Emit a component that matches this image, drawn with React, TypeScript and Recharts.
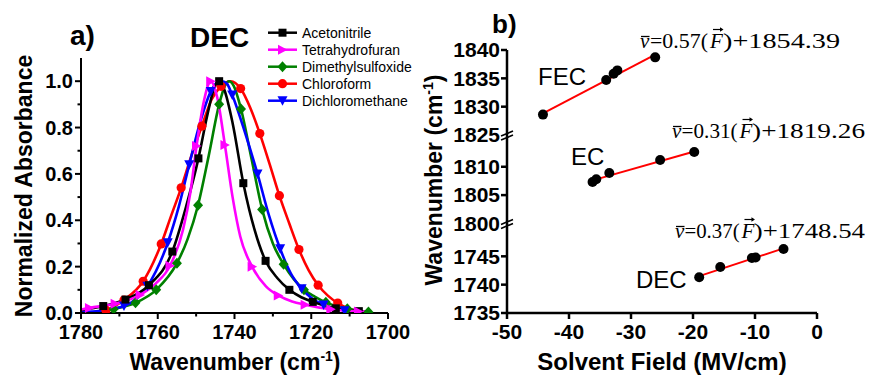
import React from 'react'
import { ComposedChart, Line, Scatter, XAxis, YAxis, Customized } from 'recharts'

type Pt = [number, number]

// ---------------------------------------------------------------------------
// a) DEC carbonyl band: wavenumber (cm-1) vs normalized absorbance
// ---------------------------------------------------------------------------
const ACN_LINE: Pt[] = [
  [1780, 0.012], [1774.2, 0.03], [1768.4, 0.058], [1762.3, 0.12], [1756.2, 0.265],
  [1752.6, 0.46], [1749.4, 0.667], [1747, 0.86], [1745.3, 0.97], [1744, 1.0],
  [1742.7, 0.965], [1740.5, 0.82], [1737.7, 0.56], [1734.7, 0.355], [1731.9, 0.225],
  [1728.8, 0.15], [1725.7, 0.1], [1722.6, 0.068], [1719.6, 0.048], [1714.3, 0.022],
  [1709, 0.01], [1706, 0.005],
]
const ACN_MARKS: Pt[] = [
  [1774.2, 0.03], [1768.4, 0.058], [1762.3, 0.12], [1756.2, 0.265], [1749.4, 0.667],
  [1744, 1.0], [1737.7, 0.56], [1731.9, 0.225], [1725.7, 0.1], [1719.6, 0.048],
  [1713.6, 0.02], [1707.6, 0.008],
]

const THF_LINE: Pt[] = [
  [1780, 0.015], [1777.8, 0.022], [1771.1, 0.04], [1764.6, 0.078], [1760.5, 0.128],
  [1756.8, 0.204], [1753.4, 0.36], [1751.5, 0.52], [1749.9, 0.72], [1747.9, 0.92],
  [1746.2, 1.0], [1744.5, 0.93], [1742.5, 0.725], [1740.5, 0.5], [1738.5, 0.33],
  [1735.4, 0.2], [1731.8, 0.115], [1728.6, 0.076], [1725, 0.05], [1721.6, 0.036],
  [1714.9, 0.016], [1707.7, 0.007], [1705, 0.005],
]
const THF_MARKS: Pt[] = [
  [1777.8, 0.022], [1771.1, 0.04], [1764.6, 0.078], [1756.8, 0.204], [1749.9, 0.72],
  [1746.2, 1.0], [1742.5, 0.725], [1735.4, 0.2], [1728.6, 0.076], [1721.6, 0.036],
  [1714.9, 0.016], [1707.7, 0.007],
]

const DMSO_LINE: Pt[] = [
  [1780, 0.0], [1776, 0.004], [1771.5, 0.017], [1765.8, 0.044], [1760.4, 0.1],
  [1755, 0.215], [1752.2, 0.32], [1749.5, 0.465], [1746.7, 0.68], [1744, 0.9],
  [1742.5, 0.98], [1741.4, 1.0], [1740.2, 0.98], [1738.3, 0.88], [1735.5, 0.66],
  [1732.8, 0.447], [1730, 0.3], [1727.2, 0.21], [1724.5, 0.145], [1721.9, 0.1],
  [1719, 0.07], [1716.2, 0.046], [1713.4, 0.03], [1710.6, 0.018], [1707.8, 0.01],
  [1705.1, 0.004],
]
const DMSO_MARKS: Pt[] = [
  [1771.5, 0.017], [1765.8, 0.044], [1760.4, 0.1], [1755, 0.215], [1749.5, 0.465],
  [1744, 0.9], [1738.3, 0.88], [1732.8, 0.447], [1727.2, 0.21], [1721.9, 0.1],
  [1716.2, 0.046], [1710.6, 0.018], [1705.1, 0.004],
]

const CHCL3_LINE: Pt[] = [
  [1780, 0.0], [1776.5, 0.003], [1773.5, 0.012], [1768.8, 0.056], [1763.8, 0.137],
  [1759.1, 0.298], [1756.5, 0.42], [1753.9, 0.54], [1751.2, 0.68], [1748.5, 0.806],
  [1746, 0.92], [1743.5, 0.978], [1741, 1.0], [1738.4, 0.968], [1735.9, 0.885],
  [1733.4, 0.774], [1730.8, 0.64], [1728.3, 0.506], [1725.7, 0.385], [1723.2, 0.274],
  [1720.7, 0.185], [1718.2, 0.12], [1715.6, 0.074], [1713.1, 0.043], [1710.3, 0.02],
  [1707.7, 0.008], [1705, 0.002],
]
const CHCL3_MARKS: Pt[] = [
  [1773.5, 0.012], [1768.8, 0.056], [1763.8, 0.137], [1759.1, 0.298], [1753.9, 0.54],
  [1748.5, 0.806], [1743.5, 0.978], [1738.4, 0.968], [1733.4, 0.774], [1728.3, 0.506],
  [1723.2, 0.274], [1718.2, 0.12], [1713.1, 0.043],
]

const DCM_LINE: Pt[] = [
  [1780, 0.004], [1775, 0.01], [1768.8, 0.03], [1762.7, 0.115], [1757.4, 0.303],
  [1754.5, 0.46], [1751.8, 0.64], [1749, 0.82], [1746.2, 0.955], [1744.5, 0.995],
  [1743.2, 1.0], [1742, 0.99], [1740.6, 0.94], [1737.3, 0.78], [1734, 0.6],
  [1731, 0.42], [1728.1, 0.277], [1725.3, 0.17], [1722.5, 0.105], [1719.6, 0.06],
  [1716.8, 0.035], [1714, 0.02], [1711.3, 0.01], [1708, 0.003],
]
const DCM_MARKS: Pt[] = [
  [1768.8, 0.03], [1762.7, 0.115], [1757.4, 0.303], [1751.8, 0.64], [1746.2, 0.955],
  [1740.6, 0.94], [1734, 0.6], [1728.1, 0.277], [1722.5, 0.105], [1716.8, 0.035],
  [1711.3, 0.01],
]

const A_X_TICKS = [1780, 1770, 1760, 1750, 1740, 1730, 1720, 1710, 1700]
const A_Y_TICKS = [0, 0.1, 0.2, 0.3, 0.4, 0.5, 0.6, 0.7, 0.8, 0.9, 1.0]

// ---------------------------------------------------------------------------
// b) peak position vs solvent field (MV/cm)
// ---------------------------------------------------------------------------
const FEC_FIELD = [-44.2, -34.0, -32.8, -32.2, -26.1]
const FEC_NU = [1828.6, 1834.7, 1835.8, 1836.4, 1838.7]
const FEC_FIT: Pt[] = [[-44.2, 1828.8], [-26.1, 1839.2]]

const EC_FIELD = [-36.2, -35.6, -33.5, -25.3, -19.8]
const EC_NU = [1807.3, 1807.8, 1808.9, 1811.2, 1812.6]
const EC_FIT: Pt[] = [[-36.2, 1807.6], [-19.8, 1812.7]]

const DEC_FIELD = [-19.0, -15.6, -10.5, -9.9, -5.4]
const DEC_NU = [1741.3, 1743.1, 1744.7, 1744.8, 1746.3]
const DEC_FIT: Pt[] = [[-19.0, 1741.5], [-5.4, 1746.4]]

// fit equations: slope, intercept
const FIT_SLOPES = ['0.57', '0.31', '0.37']
const FIT_INTERCEPTS = ['1854.39', '1819.26', '1748.54']

const B_X_TICKS = [-50, -40, -30, -20, -10, 0]
const B_Y_TICKS = [1735, 1740, 1745, 1800, 1805, 1810, 1825, 1830, 1835, 1840]
const B_Y_BREAKS = [1800, 1825]

// broken y axis: three stacked segments on one linear plot scale
function toAxis(v: number): number {
  if (v >= 1820) return 31.4 + (v - 1825)
  if (v >= 1790) return 15.8 + (v - 1800)
  return v - 1735
}

const FONT = "'Liberation Sans', Arial, sans-serif"
const SERIF = "'Liberation Serif', 'DejaVu Serif', serif"

const toPts = (arr: Pt[]) => arr.map(([x, y]) => ({ x, y }))
const toPtsB = (xs: number[], ys: number[]) => xs.map((x, i) => ({ x, y: toAxis(ys[i]) }))
const toFit = (arr: Pt[]) => arr.map(([x, y]) => ({ x, y: toAxis(y) }))

type Kind = 'square' | 'right' | 'diamond' | 'circle' | 'down'

const SERIES_A: { name: string; color: string; kind: Kind; line: Pt[]; marks: Pt[] }[] = [
  { name: 'Acetonitrile', color: '#000000', kind: 'square', line: ACN_LINE, marks: ACN_MARKS },
  { name: 'Tetrahydrofuran', color: '#FF00FF', kind: 'right', line: THF_LINE, marks: THF_MARKS },
  { name: 'Dimethylsulfoxide', color: '#008000', kind: 'diamond', line: DMSO_LINE, marks: DMSO_MARKS },
  { name: 'Chloroform', color: '#FF0000', kind: 'circle', line: CHCL3_LINE, marks: CHCL3_MARKS },
  { name: 'Dichloromethane', color: '#0000FF', kind: 'down', line: DCM_LINE, marks: DCM_MARKS },
]
// drawing order (last on top)
const DRAW_ORDER = [3, 2, 4, 0, 1]

function Marker({ kind, cx, cy, color }: { kind: Kind; cx: number; cy: number; color: string }) {
  switch (kind) {
    case 'square':
      return <rect x={cx - 4} y={cy - 4} width={8} height={8} fill={color} />
    case 'circle':
      return <circle cx={cx} cy={cy} r={4.6} fill={color} />
    case 'right':
      return <polygon points={`${cx - 4.5},${cy - 5} ${cx + 5},${cy} ${cx - 4.5},${cy + 5}`} fill={color} />
    case 'diamond':
      return <polygon points={`${cx},${cy - 5.5} ${cx + 5},${cy} ${cx},${cy + 5.5} ${cx - 5},${cy}`} fill={color} />
    case 'down':
      return <polygon points={`${cx - 5},${cy - 4.5} ${cx + 5},${cy - 4.5} ${cx},${cy + 5}`} fill={color} />
  }
  return null
}

// ---- ticks --------------------------------------------------------------
function XTickA(props: any) {
  const { x, y, payload } = props
  const v = payload.value as number
  const major = v % 20 === 0
  return (
    <g>
      <line x1={x} x2={x} y1={y} y2={y + (major ? 6 : 3.5)} stroke="#000" strokeWidth={2} />
      {major && (
        <text x={x} y={y + 19} dy="0.35em" textAnchor="middle" fontFamily={FONT} fontWeight="bold" fontSize={20} fill="#000">
          {v}
        </text>
      )}
    </g>
  )
}

function YTickA(props: any) {
  const { x, y, payload } = props
  const v = payload.value as number
  const major = Math.round(v * 10) % 2 === 0
  return (
    <g>
      <line x1={x} x2={x - (major ? 6 : 3.5)} y1={y} y2={y} stroke="#000" strokeWidth={2} />
      {major && (
        <text x={x - 8} y={y} dy="0.35em" textAnchor="end" fontFamily={FONT} fontWeight="bold" fontSize={20} fill="#000">
          {v.toFixed(1)}
        </text>
      )}
    </g>
  )
}

function XTickB(props: any) {
  const { x, y, payload } = props
  return (
    <g>
      <line x1={x} x2={x} y1={y} y2={y + 6} stroke="#000" strokeWidth={2.5} />
      <text x={x} y={y + 19} dy="0.35em" textAnchor="middle" fontFamily={FONT} fontWeight="bold" fontSize={21} fill="#000">
        {payload.value}
      </text>
    </g>
  )
}

function YTickB(props: any) {
  const { x, y, payload } = props
  const label = B_Y_TICKS.find((t) => Math.abs(toAxis(t) - payload.value) < 1e-6) ?? 0
  const isBreak = B_Y_BREAKS.includes(label)
  return (
    <g>
      {isBreak ? (
        <g stroke="#000" strokeWidth={1.6}>
          <line x1={x - 6} y1={y + 1} x2={x + 6} y2={y - 4} />
          <line x1={x - 6} y1={y + 5} x2={x + 6} y2={y} />
        </g>
      ) : (
        <line x1={x} x2={x - 6} y1={y} y2={y} stroke="#000" strokeWidth={2.5} />
      )}
      <text x={x - 7} y={y} dy="0.35em" textAnchor="end" fontFamily={FONT} fontWeight="bold" fontSize={21} fill="#000">
        {label}
      </text>
    </g>
  )
}

// ---- overlays -----------------------------------------------------------
function DecorA() {
  return (
    <g fontFamily={FONT} fill="#000">
      <text x={70} y={45} fontWeight="bold" fontSize={28}>a)</text>
      <text x={190} y={47} fontWeight="bold" fontSize={28}>DEC</text>
      <text x={235} y={370} textAnchor="middle" fontWeight="bold" fontSize={23}>
        Wavenumber (cm<tspan dy={-9} fontSize={14}>-1</tspan><tspan dy={9}>)</tspan>
      </text>
      <text transform="translate(32,186) rotate(-90)" textAnchor="middle" fontWeight="bold" fontSize={23}>
        Normalized Absorbance
      </text>
      {SERIES_A.map((s, i) => {
        const cy = 32.7 + i * 17
        return (
          <g key={s.name}>
            <line x1={268} x2={297} y1={cy} y2={cy} stroke={s.color} strokeWidth={2.5} />
            <Marker kind={s.kind} cx={282.5} cy={cy} color={s.color} />
            <text x={302} y={cy} dy="0.35em" fontSize={14}>{s.name}</text>
          </g>
        )
      })}
    </g>
  )
}

// ν̄ = a(F⃗) + b, laid out piece by piece so the bar and arrow sit right
function Equation({ x0, y, w, slope, icpt }: { x0: number; y: number; w: number; slope: string; icpt: string }) {
  const k = w / 201
  const xEq = x0 + 11 * k
  const xF = x0 + 71 * k
  const xClose = x0 + 84 * k
  return (
    <g fontFamily={SERIF} fontSize={21} fill="#000">
      <text x={x0 + 1} y={y} fontStyle="italic">ν</text>
      <line x1={x0 + 2} x2={x0 + 10.5} y1={y - 11.5} y2={y - 11.5} stroke="#000" strokeWidth={1.3} />
      <text x={xEq} y={y} textLength={xF - 2 * k - xEq} lengthAdjust="spacingAndGlyphs">={slope}(</text>
      <text x={xF} y={y} fontStyle="italic">F</text>
      <line x1={xF + 3} x2={xF + 12} y1={y - 18.5} y2={y - 18.5} stroke="#000" strokeWidth={1.2} />
      <polygon points={`${xF + 13.5},${y - 18.5} ${xF + 10},${y - 20.8} ${xF + 10},${y - 16.2}`} fill="#000" />
      <text x={xClose} y={y} textLength={x0 + w - xClose} lengthAdjust="spacingAndGlyphs">)+{icpt}</text>
    </g>
  )
}

function DecorB() {
  return (
    <g fontFamily={FONT} fill="#000">
      <text x={72} y={33} fontWeight="bold" fontSize={26}>b)</text>
      <text x={242} y={370} textAnchor="middle" fontWeight="bold" fontSize={24}>Solvent Field (MV/cm)</text>
      <text transform="translate(22,180) rotate(-90)" textAnchor="middle" fontWeight="bold" fontSize={23}>
        Wavenumber (cm<tspan dy={-9} fontSize={14}>-1</tspan><tspan dy={9}>)</tspan>
      </text>
      <text x={118} y={85} fontSize={24}>FEC</text>
      <text x={151} y={165} fontSize={24}>EC</text>
      <text x={216} y={288} fontSize={24}>DEC</text>
      <Equation x0={219} y={48} w={201} slope={FIT_SLOPES[0]} icpt={FIT_INTERCEPTS[0]} />
      <Equation x0={251} y={138} w={194} slope={FIT_SLOPES[1]} icpt={FIT_INTERCEPTS[1]} />
      <Equation x0={254} y={238} w={191} slope={FIT_SLOPES[2]} icpt={FIT_INTERCEPTS[2]} />
    </g>
  )
}

const dotB = (p: any) => <circle cx={p.cx} cy={p.cy} r={5} fill="#000" />

export default function App() {
  return (
    <div style={{ position: 'absolute', left: 0, top: 0, width: 869, height: 377, background: '#fff' }}>
      <div style={{ position: 'absolute', left: 0, top: 0 }}>
        <ComposedChart width={420} height={377} margin={{ top: 58, right: 32, bottom: 24, left: 21 }}>
          <XAxis
            dataKey="x"
            type="number"
            domain={[1700, 1780]}
            reversed
            ticks={A_X_TICKS}
            interval={0}
            height={40}
            tickSize={0}
            tickMargin={0}
            tickLine={false}
            tick={<XTickA />}
            axisLine={{ stroke: '#000', strokeWidth: 2 }}
            allowDataOverflow
          />
          <YAxis
            dataKey="y"
            type="number"
            domain={[0, 1.1]}
            ticks={A_Y_TICKS}
            interval={0}
            width={60}
            tickSize={0}
            tickMargin={0}
            tickLine={false}
            tick={<YTickA />}
            axisLine={{ stroke: '#000', strokeWidth: 2 }}
            allowDataOverflow
          />
          {DRAW_ORDER.map((idx) => {
            const s = SERIES_A[idx]
            return [
              <Line
                key={s.name + '-line'}
                data={toPts(s.line)}
                dataKey="y"
                type="monotone"
                stroke={s.color}
                strokeWidth={2.6}
                dot={false}
                activeDot={false}
                isAnimationActive={false}
              />,
              <Scatter
                key={s.name + '-marks'}
                data={toPts(s.marks)}
                dataKey="y"
                isAnimationActive={false}
                shape={(p: any) => <Marker kind={s.kind} cx={p.cx} cy={p.cy} color={s.color} />}
              />,
            ]
          })}
          <Customized component={DecorA} />
        </ComposedChart>
      </div>
      <div style={{ position: 'absolute', left: 420, top: 0 }}>
        <ComposedChart width={449} height={377} margin={{ top: 50, right: 52, bottom: 24, left: 27 }}>
          <XAxis
            dataKey="x"
            type="number"
            domain={[-50, 0]}
            ticks={B_X_TICKS}
            interval={0}
            height={40}
            tickSize={0}
            tickMargin={0}
            tickLine={false}
            tick={<XTickB />}
            axisLine={{ stroke: '#000', strokeWidth: 2.5 }}
          />
          <YAxis
            dataKey="y"
            type="number"
            domain={[0, toAxis(1840)]}
            ticks={B_Y_TICKS.map(toAxis)}
            interval={0}
            width={60}
            tickSize={0}
            tickMargin={0}
            tickLine={false}
            tick={<YTickB />}
            axisLine={{ stroke: '#000', strokeWidth: 2.5 }}
          />
          <Scatter data={toPtsB(FEC_FIELD, FEC_NU)} dataKey="y" shape={dotB} isAnimationActive={false} />
          <Scatter data={toPtsB(EC_FIELD, EC_NU)} dataKey="y" shape={dotB} isAnimationActive={false} />
          <Scatter data={toPtsB(DEC_FIELD, DEC_NU)} dataKey="y" shape={dotB} isAnimationActive={false} />
          <Line data={toFit(FEC_FIT)} dataKey="y" type="linear" stroke="#FF0000" strokeWidth={2} dot={false} activeDot={false} isAnimationActive={false} />
          <Line data={toFit(EC_FIT)} dataKey="y" type="linear" stroke="#FF0000" strokeWidth={2} dot={false} activeDot={false} isAnimationActive={false} />
          <Line data={toFit(DEC_FIT)} dataKey="y" type="linear" stroke="#FF0000" strokeWidth={2} dot={false} activeDot={false} isAnimationActive={false} />
          <Customized component={DecorB} />
        </ComposedChart>
      </div>
    </div>
  )
}
